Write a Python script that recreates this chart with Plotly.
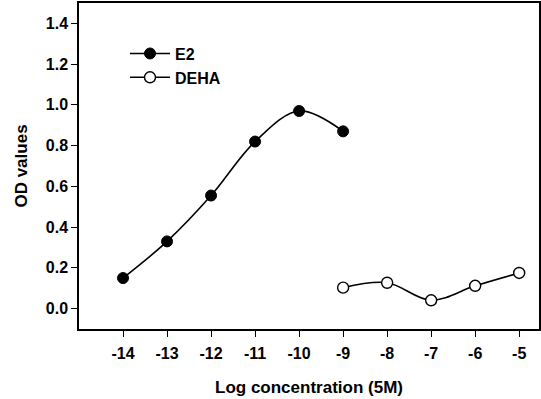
import plotly.graph_objects as go

e2_x = [-14, -13, -12, -11, -10, -9]
e2_y = [0.15, 0.33, 0.555, 0.82, 0.97, 0.87]
deha_x = [-9, -8, -7, -6, -5]
deha_y = [0.103, 0.127, 0.041, 0.112, 0.175]

x_ticks = [-14, -13, -12, -11, -10, -9, -8, -7, -6, -5]
y_ticks = [0.0, 0.2, 0.4, 0.6, 0.8, 1.0, 1.2, 1.4]

font_family = "Liberation Sans, Arial, sans-serif"
tick_fs = 16
title_fs = 17
legend_fs = 16

fig = go.Figure()
fig.add_trace(go.Scatter(
    x=e2_x, y=e2_y, name="E2", mode="lines+markers",
    line=dict(color="black", width=1.6, shape="spline"),
    marker=dict(symbol="circle", size=11, color="black", line=dict(color="black", width=1)),
))
fig.add_trace(go.Scatter(
    x=deha_x, y=deha_y, name="DEHA", mode="lines+markers",
    line=dict(color="black", width=1.6, shape="spline"),
    marker=dict(symbol="circle", size=11, color="white", line=dict(color="black", width=1.4)),
))

fig.update_layout(
    width=541, height=399,
    margin=dict(l=79, r=2, t=3, b=70, autoexpand=False),
    paper_bgcolor="white", plot_bgcolor="white",
    font=dict(family=font_family, size=tick_fs, color="black"),
    showlegend=True,
    legend=dict(x=0.1, y=0.897, xanchor="left", yanchor="top",
                bgcolor="rgba(0,0,0,0)", font=dict(size=legend_fs, family=font_family, weight="bold"),
                tracegroupgap=0, itemwidth=40),
    xaxis=dict(
        range=[-15, -4.55], tickmode="array", tickvals=x_ticks,
        ticktext=[str(v) for v in x_ticks],
        ticks="outside", ticklen=6, tickwidth=1, tickcolor="black",
        ticklabelstandoff=3,
        showline=True, linecolor="black", linewidth=1.5, mirror=True,
        showgrid=False, zeroline=False, automargin=False,
        tickfont=dict(size=tick_fs, weight="bold"),
        title=dict(text="Log concentration (5M)", font=dict(size=title_fs, weight="bold"), standoff=20),
    ),
    yaxis=dict(
        range=[-0.1, 1.5], tickmode="array", tickvals=y_ticks,
        ticktext=["%.1f" % v for v in y_ticks],
        ticks="outside", ticklen=6, tickwidth=1, tickcolor="black",
        showline=True, linecolor="black", linewidth=1.5, mirror=True,
        showgrid=False, zeroline=False, automargin=False,
        tickfont=dict(size=tick_fs, weight="bold"),
        title=dict(text="OD values", font=dict(size=title_fs, weight="bold"), standoff=14),
    ),
)

fig.write_html("out.html", config={"displayModeBar": False},
               post_script="document.body.style.margin='0';")
